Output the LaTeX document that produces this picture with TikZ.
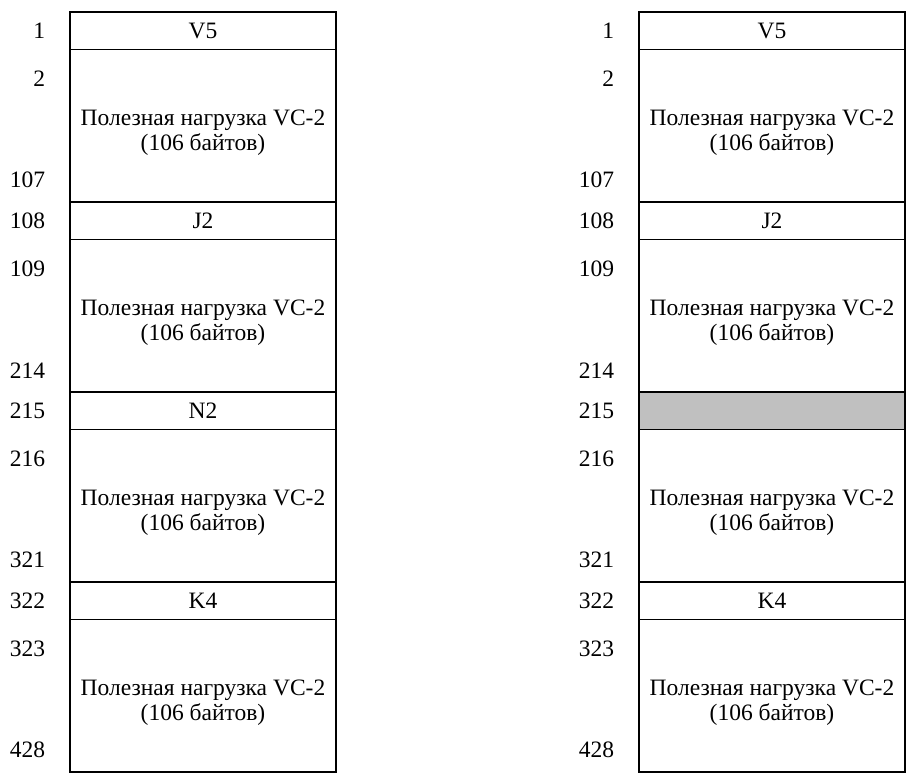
\documentclass[tikz,border=0pt]{standalone}
\usepackage{fontspec}
\setmainfont{Liberation Serif}
\usetikzlibrary{positioning}
\definecolor{slotgray}{RGB}{192,192,192}

\begin{document}
\begin{tikzpicture}[x=1pt, y=-1pt, node distance=0pt,
 every node/.style={font=\fontsize{23.5}{25}\selectfont, inner sep=0pt, outer sep=0pt},
 cell/.style={draw, line width=1.1pt, minimum width=266pt, align=center},
 hdr/.style={cell, minimum height=37.5pt},
 load/.style={cell, minimum height=152.5pt, text height=54pt},
 nmid/.style={left=25pt of #1.west},
 ntop/.style={below left=21pt and 25pt of #1.north west},
 nbot/.style={above left=14pt and 25pt of #1.south west}]
\useasboundingbox (0,0) rectangle (908,774);
\node[hdr] (v5L) at (203,30.75) {V5};
\node[load, below=of v5L] (p1L) {Полезная нагрузка VC-2\\(106 байтов)};
\node[hdr, below=of p1L] (j2L) {J2};
\node[load, below=of j2L] (p2L) {Полезная нагрузка VC-2\\(106 байтов)};
\node[hdr, below=of p2L] (n2L) {N2};
\node[load, below=of n2L] (p3L) {Полезная нагрузка VC-2\\(106 байтов)};
\node[hdr, below=of p3L] (k4L) {K4};
\node[load, below=of k4L] (p4L) {Полезная нагрузка VC-2\\(106 байтов)};
\node[nmid=v5L] (r1L) {1};
\node[ntop=p1L] (r2L) {2};
\node[nbot=p1L] (r107L) {107};
\node[nmid=j2L] (r108L) {108};
\node[ntop=p2L] (r109L) {109};
\node[nbot=p2L] (r214L) {214};
\node[nmid=n2L] (r215L) {215};
\node[ntop=p3L] (r216L) {216};
\node[nbot=p3L] (r321L) {321};
\node[nmid=k4L] (r322L) {322};
\node[ntop=p4L] (r323L) {323};
\node[nbot=p4L] (r428L) {428};
\node[hdr] (v5R) at (772,30.75) {V5};
\node[load, below=of v5R] (p1R) {Полезная нагрузка VC-2\\(106 байтов)};
\node[hdr, below=of p1R] (j2R) {J2};
\node[load, below=of j2R] (p2R) {Полезная нагрузка VC-2\\(106 байтов)};
\node[hdr, fill=slotgray, below=of p2R] (n2R) {};
\node[load, below=of n2R] (p3R) {Полезная нагрузка VC-2\\(106 байтов)};
\node[hdr, below=of p3R] (k4R) {K4};
\node[load, below=of k4R] (p4R) {Полезная нагрузка VC-2\\(106 байтов)};
\node[nmid=v5R] (r1R) {1};
\node[ntop=p1R] (r2R) {2};
\node[nbot=p1R] (r107R) {107};
\node[nmid=j2R] (r108R) {108};
\node[ntop=p2R] (r109R) {109};
\node[nbot=p2R] (r214R) {214};
\node[nmid=n2R] (r215R) {215};
\node[ntop=p3R] (r216R) {216};
\node[nbot=p3R] (r321R) {321};
\node[nmid=k4R] (r322R) {322};
\node[ntop=p4R] (r323R) {323};
\node[nbot=p4R] (r428R) {428};
\end{tikzpicture}
\end{document}
